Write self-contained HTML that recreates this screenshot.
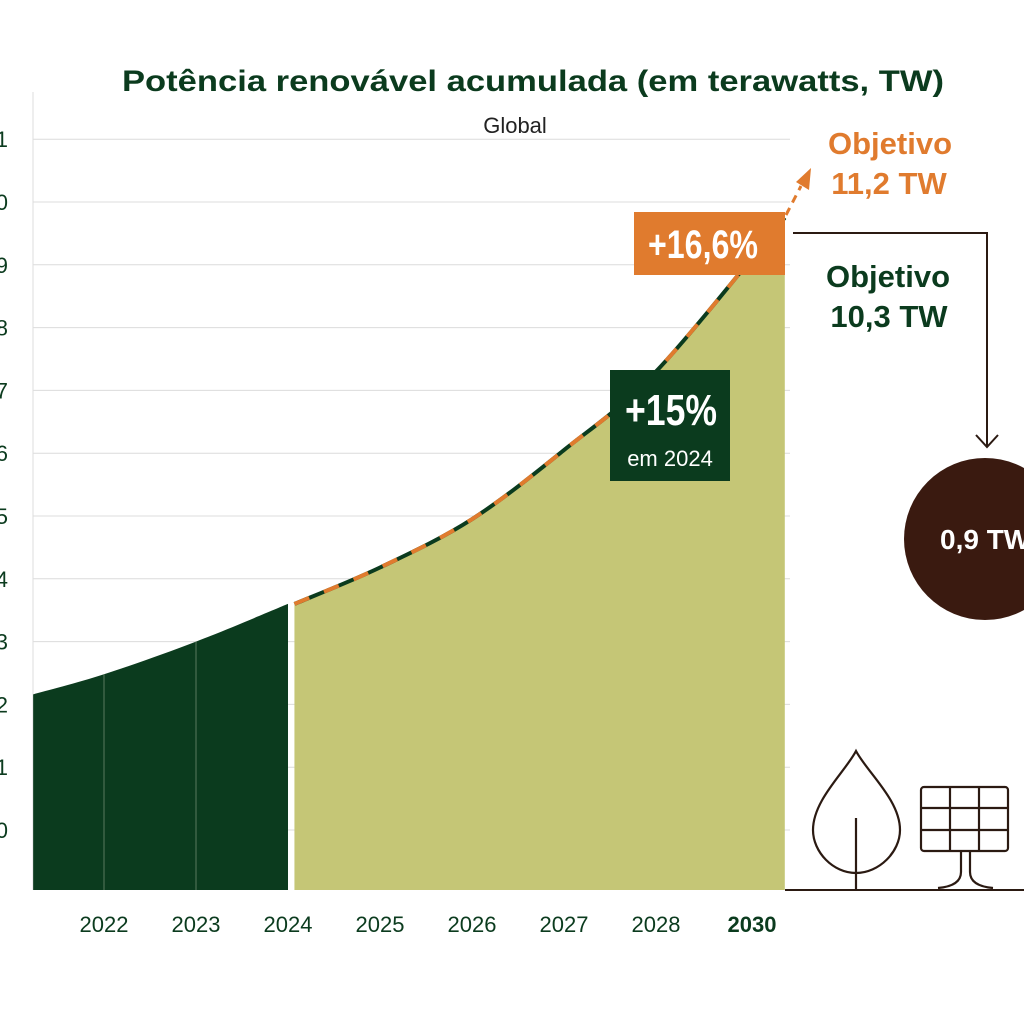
<!DOCTYPE html>
<html><head><meta charset="utf-8"><style>
html,body{margin:0;padding:0;background:#fff;}
svg{display:block;font-family:"Liberation Sans",sans-serif;}
</style></head><body>
<svg id="chart" width="1024" height="1024" viewBox="0 0 1024 1024">
<text x="533" y="91" text-anchor="middle" font-size="30" font-weight="bold" fill="#0b3b1e" textLength="822" lengthAdjust="spacingAndGlyphs">Potência renovável acumulada (em terawatts, TW)</text>
<text x="515" y="133" text-anchor="middle" font-size="22" fill="#222">Global</text>
<g id="grid"></g>
<g id="yticks"></g>
<line x1="33" y1="92" x2="33" y2="890" stroke="#ddd" stroke-width="1"/>
<g id="areas"></g>
<g id="xticks"></g>
<g>
<line x1="786" y1="215" x2="801" y2="186" stroke="#e07b2e" stroke-width="3" stroke-dasharray="8,6"/>
<polygon points="811,168 796,182 809,190" fill="#e07b2e"/>
</g>
<rect x="634" y="212" width="151" height="63" fill="#e07b2e"/>
<text x="648" y="258" font-size="40" font-weight="bold" fill="#fff" textLength="110" lengthAdjust="spacingAndGlyphs">+16,6%</text>
<rect x="610" y="370" width="120" height="111" fill="#0b3b1e"/>
<text x="625" y="425" font-size="44" font-weight="bold" fill="#fff" textLength="92" lengthAdjust="spacingAndGlyphs">+15%</text>
<text x="670" y="466" text-anchor="middle" font-size="22" fill="#fff">em 2024</text>
<text x="890" y="154" text-anchor="middle" font-size="31" font-weight="bold" fill="#e07b2e">Objetivo</text>
<text x="889" y="194" text-anchor="middle" font-size="31" font-weight="bold" fill="#e07b2e">11,2 TW</text>
<text x="888" y="287" text-anchor="middle" font-size="31" font-weight="bold" fill="#0b3b1e">Objetivo</text>
<text x="889" y="327" text-anchor="middle" font-size="31" font-weight="bold" fill="#0b3b1e">10,3 TW</text>
<g>
<polyline points="793,233 987,233 987,446" fill="none" stroke="#2b1a12" stroke-width="2"/>
<polyline points="976,435 987,447 998,435" fill="none" stroke="#2b1a12" stroke-width="2"/>
</g>
<circle cx="985" cy="539" r="81" fill="#3a1a10"/>
<text x="940" y="549" font-size="28" font-weight="bold" fill="#fff">0,9 TW</text>
<line x1="785" y1="890" x2="1024" y2="890" stroke="#2b1a12" stroke-width="2"/>
<g fill="none" stroke="#2b1a12" stroke-width="2.2">
<path d="M856,751 C845,772 813,800 813,830 C813,852 833,873 856,873 C879,873 900,852 900,830 C900,800 867,772 856,751 Z"/>
<line x1="856" y1="818" x2="856" y2="890"/>
</g>
<g fill="none" stroke="#2b1a12" stroke-width="2.2">
<rect x="921" y="787" width="87" height="64" rx="3"/>
<line x1="950" y1="787" x2="950" y2="851"/><line x1="979" y1="787" x2="979" y2="851"/>
<line x1="921" y1="808" x2="1008" y2="808"/><line x1="921" y1="830" x2="1008" y2="830"/>
<path d="M961,851 L961,872 Q961,886 938,888"/><path d="M970,851 L970,872 Q970,886 993,888"/>
</g>
</svg>
<script>
const yTickLabels=["0","1","2","3","4","5","6","7","8","9","10","11"];
const yTickValues=[0,1,2,3,4,5,6,7,8,9,10,11];
const xTickLabels=["2022","2023","2024","2025","2026","2027","2028","2030"];
const xTickPositions=[2022,2023,2024,2025,2026,2027,2028,2029];
const histYears=[2021.23,2022,2023,2024];
const histValues=[2.16,2.48,3.0,3.6];
const projYears=[2024.07,2025,2026,2027,2028,2029.4];
const projValues=[3.6,4.18,4.95,6.05,7.3,9.75];

const NS="http://www.w3.org/2000/svg";
const X=v=>104+(v-2022)*92;
const Y=v=>830-v*62.8;
const base=890;
function mk(tag,attrs,parent){const e=document.createElementNS(NS,tag);for(const k in attrs)e.setAttribute(k,attrs[k]);parent.appendChild(e);return e;}
function smooth(xs,ys){
  const p=xs.map((x,i)=>[X(x),Y(ys[i])]);
  let d="M"+p[0][0]+","+p[0][1];
  for(let i=0;i<p.length-1;i++){
    const p0=p[i-1]||p[i],p1=p[i],p2=p[i+1],p3=p[i+2]||p2;
    const c1=[p1[0]+(p2[0]-p0[0])/6,p1[1]+(p2[1]-p0[1])/6];
    const c2=[p2[0]-(p3[0]-p1[0])/6,p2[1]-(p3[1]-p1[1])/6];
    d+=" C"+c1[0]+","+c1[1]+" "+c2[0]+","+c2[1]+" "+p2[0]+","+p2[1];
  }
  return d;
}
const grid=document.getElementById('grid'),yt=document.getElementById('yticks');
yTickValues.forEach((v,i)=>{
  const l=mk('line',{x1:33,x2:790,y1:Y(v),y2:Y(v),stroke:'#dcdcdc','stroke-width':1},grid);
  
  
  const t=mk('text',{x:8,y:Y(v)+8,'text-anchor':'end','font-size':22,fill:'#0b3b1e'},yt);
  t.textContent=yTickLabels[i];
  
  
});
const areas=document.getElementById('areas');
const hd=smooth(histYears,histValues);
const ha=mk('path',{d:hd+" L"+X(histYears[histYears.length-1])+","+base+" L"+X(histYears[0])+","+base+" Z",fill:'#0b3b1e'},areas);


histYears.slice(1,-1).forEach(y=>{
  const l=mk('line',{x1:X(y),x2:X(y),y1:Y(histValues[histYears.indexOf(y)]),y2:base,stroke:'#5a7a5f','stroke-width':1},areas);
  
  
});
const pd=smooth(projYears,projValues);
const pa=mk('path',{d:pd+" L"+X(projYears[projYears.length-1])+","+base+" L"+X(projYears[0])+","+base+" Z",fill:'#c5c676'},areas);


const pl=mk('path',{d:pd,fill:'none',stroke:'#0b3b1e','stroke-width':4},areas);


const po=mk('path',{d:pd,fill:'none',stroke:'#e07b2e','stroke-width':4,'stroke-dasharray':'16,16'},areas);


const xt=document.getElementById('xticks');
xTickLabels.forEach((s,i)=>{
  const t=mk('text',{x:X(xTickPositions[i])+(i===7?4:0),y:932,'text-anchor':'middle','font-size':22,fill:'#0b3b1e','font-weight':i===7?'bold':'normal'},xt);
  t.textContent=s;
  
  
});
</script>
</body></html>
